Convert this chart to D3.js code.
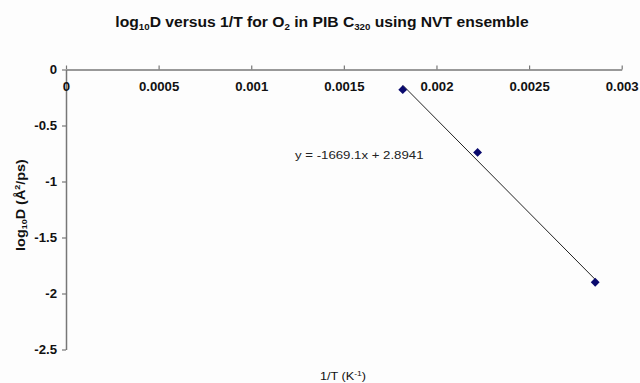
<!DOCTYPE html>
<html>
<head>
<meta charset="utf-8">
<script src="https://cdn.jsdelivr.net/npm/d3@7"></script>
<style>
  body { margin: 0; background: #fff; }
  svg { display: block; font-family: Arial, "Liberation Sans", sans-serif; }
</style>
</head>
<body>
<div id="chart"></div>
<script>
// values (1/T = 1/550, 1/450, 1/350)
var invT = [0.001818, 0.002222, 0.002857];
var logD = [-0.18, -0.74, -1.90];
var xTicks = [0, 0.0005, 0.001, 0.0015, 0.002, 0.0025, 0.003];
var yTicks = [0, -0.5, -1, -1.5, -2, -2.5];
var fitSlope = -1669.1, fitIntercept = 2.8941;

var W = 640, H = 383;
var SX = 1.1; // the original picture is a bit stretched sideways

var svg = d3.select("#chart").append("svg").attr("width", W).attr("height", H);
svg.append("rect").attr("width", W).attr("height", H).attr("fill", "#fdfdfd");

var x = d3.scaleLinear().domain([0, 0.003]).range([66, 621.7]);
var y = d3.scaleLinear().domain([0, -2.5]).range([69.5, 349.5]);

// stretched text helper
function stext(g, tx, ty, anchor, sx) {
    return g.append("text")
        .attr("transform", "translate(" + tx + "," + ty + ") scale(" + (sx || SX) + ",1)")
        .attr("text-anchor", anchor || "middle");
}

// plain hyphen minus like the original
function fmt(d) { return String(d); }

// title
var title = stext(svg, 322, 27, "middle", 1.08).attr("font-size", 14.5).attr("font-weight", "bold").attr("fill", "#111");
title.append("tspan").text("log");
title.append("tspan").attr("font-size", 9).attr("dy", 3).text("10");
title.append("tspan").attr("dy", -3).text("D versus 1/T for O");
title.append("tspan").attr("font-size", 9).attr("dy", 3).text("2");
title.append("tspan").attr("dy", -3).text(" in PIB C");
title.append("tspan").attr("font-size", 9).attr("dy", 3).text("320");
title.append("tspan").attr("dy", -3).text(" using NVT ensemble");

// y axis
var yAxis = svg.append("g")
    .attr("transform", "translate(" + x(0) + ",0)")
    .call(d3.axisLeft(y).tickValues(yTicks).tickSize(4).tickSizeOuter(0).tickFormat(fmt));
yAxis.select(".domain").attr("stroke", "#777").attr("stroke-width", 1.5);
yAxis.selectAll(".tick line").attr("stroke", "#777").attr("stroke-width", 1.2);
yAxis.selectAll(".tick text")
    .attr("font-size", 12).attr("font-weight", "bold").attr("fill", "#111")
    .attr("font-family", "Arial, 'Liberation Sans', sans-serif")
    .attr("x", -9 / SX).attr("dy", "0.35em")
    .attr("transform", "scale(" + SX + ",1)");

// x axis, crossing at y = 0, ticks pointing up
var xAxis = svg.append("g")
    .attr("transform", "translate(0," + y(0) + ")")
    .call(d3.axisBottom(x).tickValues(xTicks).tickSizeInner(-4).tickSizeOuter(0).tickFormat(fmt));
xAxis.select(".domain").attr("stroke", "#777").attr("stroke-width", 1.5);
xAxis.selectAll(".tick line").attr("stroke", "#777").attr("stroke-width", 1.2);
xAxis.selectAll(".tick text")
    .attr("font-size", 12).attr("font-weight", "bold").attr("fill", "#111")
    .attr("font-family", "Arial, 'Liberation Sans', sans-serif")
    .attr("y", 22).attr("dy", null)
    .attr("transform", "scale(" + SX + ",1)");

// axis titles
var yl = svg.append("text")
    .attr("transform", "translate(25,205) rotate(-90) scale(1.2,1)")
    .attr("text-anchor", "middle").attr("font-size", 12).attr("font-weight", "bold").attr("fill", "#111");
yl.append("tspan").text("log");
yl.append("tspan").attr("font-size", 7.5).attr("dy", 2).text("10");
yl.append("tspan").attr("dy", -2).text("D (Å");
yl.append("tspan").attr("font-size", 7.5).attr("dy", -5).text("2");
yl.append("tspan").attr("dy", 5).text("/ps)");

var xl = stext(svg, 343, 379.5, "middle", 1.15).attr("font-size", 11).attr("fill", "#111");
xl.append("tspan").text("1/T (K");
xl.append("tspan").attr("font-size", 7.5).attr("dy", -4).text("-1");
xl.append("tspan").attr("dy", 4).text(")");

// linear trend line over the data range
var xExt = d3.extent(invT);
svg.append("line")
    .attr("x1", x(xExt[0])).attr("y1", y(fitSlope * xExt[0] + fitIntercept))
    .attr("x2", x(xExt[1])).attr("y2", y(fitSlope * xExt[1] + fitIntercept))
    .attr("stroke", "#222").attr("stroke-width", 1);

// data points as diamonds
svg.selectAll("path.pt")
    .data(invT)
    .enter().append("path")
    .attr("class", "pt")
    .attr("d", d3.symbol().type(d3.symbolDiamond2).size(50))
    .attr("transform", function(d, i) { return "translate(" + x(d) + "," + y(logD[i]) + ")"; })
    .attr("fill", "#0a0a6e");

// trend equation
stext(svg, 295, 159, "start", 1.15).attr("font-size", 11.5).attr("fill", "#222")
    .text("y = " + fitSlope + "x + " + fitIntercept);
</script>
</body>
</html>
